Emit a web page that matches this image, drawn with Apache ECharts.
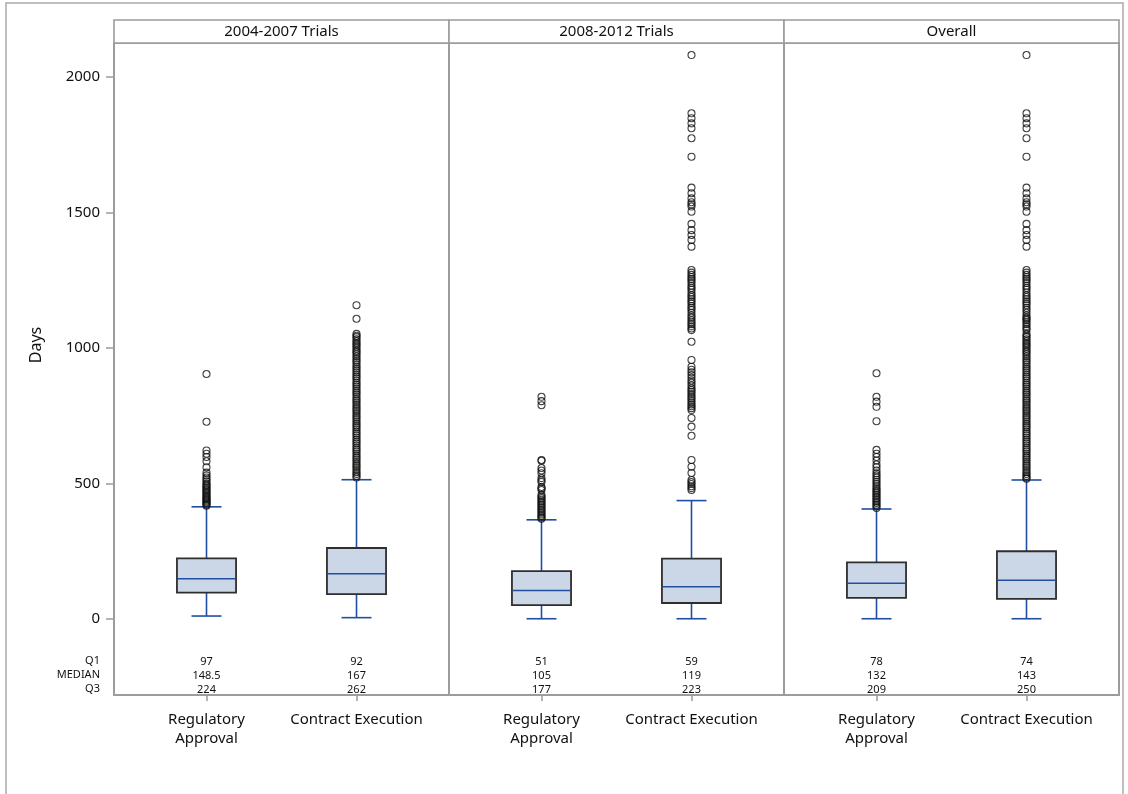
<!DOCTYPE html>
<html><head><meta charset="utf-8">
<script src="https://cdn.jsdelivr.net/npm/echarts@6/dist/echarts.min.js"></script>
<style>html,body{margin:0;padding:0;background:#fff}#c{width:1128px;height:794px}</style>
</head><body><div id="c"></div>
<script>
// ---------- data ----------
const panels = ['2004-2007 Trials', '2008-2012 Trials', 'Overall'];
const categories = ['Regulatory\nApproval', 'Contract Execution'];
const yTicks = [0, 500, 1000, 1500, 2000];
const statLabels = ['Q1', 'MEDIAN', 'Q3'];

// per panel: [Regulatory Approval, Contract Execution]
const whiskerLow  = [[11, 5], [1, 1], [1, 1]];
const q1          = [[97, 92], [51, 59], [78, 74]];
const median      = [[148.5, 167], [105, 119], [132, 143]];
const q3          = [[224, 262], [177, 223], [209, 250]];
const whiskerHigh = [[414, 514], [366, 437], [406, 513]];

const outP1Reg = [904, 728, 622, 610, 598, 582, 560, 540, 530, 522, 515, 508, 500, 495, 490, 485, 480, 475, 470, 465, 460, 455, 450, 446, 442, 438, 434, 430, 426, 422, 418];
const outP1Con = [1158, 1108, 1052, 1045, 1040, 1032, 1025, 1018, 1012, 1005, 998, 990, 985, 978, 970, 962, 955, 948, 940, 932, 925, 918, 910, 902, 895, 888, 880, 872, 865, 858, 850, 842, 835, 828, 820, 812, 805, 798, 790, 782, 775, 768, 760, 752, 745, 738, 730, 722, 715, 708, 700, 692, 685, 678, 670, 662, 655, 648, 640, 632, 625, 618, 610, 602, 595, 588, 580, 572, 565, 558, 550, 542, 535, 528, 522];
const outP2Reg = [820, 804, 789, 587, 584, 557, 548, 538, 520, 512, 506, 487, 482, 476, 458, 452, 446, 440, 434, 428, 422, 416, 410, 404, 398, 392, 386, 380, 375, 370];
const outP2Con = [2081, 1866, 1848, 1829, 1811, 1774, 1706, 1592, 1571, 1552, 1538, 1530, 1522, 1503, 1458, 1435, 1417, 1399, 1374, 1288, 1278, 1270, 1262, 1255, 1248, 1240, 1230, 1222, 1215, 1205, 1195, 1188, 1180, 1172, 1165, 1155, 1148, 1140, 1130, 1120, 1112, 1103, 1095, 1088, 1080, 1072, 1066, 1023, 956, 931, 920, 910, 900, 890, 880, 872, 862, 852, 845, 838, 830, 822, 815, 808, 800, 792, 785, 778, 771, 742, 710, 676, 587, 562, 539, 513, 505, 498, 490, 483, 476];
const outP3Reg = [907, 820, 802, 783, 730, 624, 610, 598, 585, 570, 560, 548, 538, 530, 522, 514, 506, 498, 490, 482, 476, 470, 464, 458, 452, 446, 440, 434, 428, 422, 416, 410];
const outP3Con = [2081, 1866, 1848, 1829, 1811, 1774, 1706, 1592, 1571, 1552, 1538, 1530, 1522, 1503, 1458, 1435, 1417, 1399, 1374, 1288, 1278, 1270, 1262, 1255, 1248, 1240, 1230, 1222, 1215, 1205, 1195, 1188, 1180, 1172, 1165, 1158, 1148, 1140, 1130, 1120, 1112, 1108, 1103, 1095, 1088, 1080, 1072, 1066, 1052, 1045, 1040, 1032, 1025, 1018, 1012, 1005, 998, 990, 985, 978, 970, 962, 955, 948, 940, 932, 925, 918, 910, 902, 895, 888, 880, 872, 865, 858, 850, 842, 835, 828, 820, 812, 805, 798, 790, 782, 775, 768, 760, 752, 745, 738, 730, 722, 715, 708, 700, 692, 685, 678, 670, 662, 655, 648, 640, 632, 625, 618, 610, 602, 595, 588, 580, 572, 565, 558, 550, 542, 535, 528, 522, 518];
const outliers = [[outP1Reg, outP1Con], [outP2Reg, outP2Con], [outP3Reg, outP3Con]];

// ---------- layout / style ----------
const FONT = 'Noto Sans';
const panelX = [114, 449, 784];
const panelW = 335;
const plotTop = 43, plotH = 652;
const headerTop = 20, headerH = 23;
const innerPad = 17.5;
const yMin = -280.4, yMax = 2125.5;
const frameColor = '#9c9c9c';
const boxFill = '#cbd6e6', boxStroke = '#2e2e2e', blue = '#1f4ea3';

function renderBox(params, api) {
  const x = api.value(0);
  const lo = api.coord([x, api.value(1)]);
  const b1 = api.coord([x, api.value(2)]);
  const md = api.coord([x, api.value(3)]);
  const b3 = api.coord([x, api.value(4)]);
  const hi = api.coord([x, api.value(5)]);
  const cx = lo[0];
  const band = api.size([1, 0])[0];
  const hw = band * 0.197, cw = band * 0.1;
  const ls = { stroke: blue, lineWidth: 1.6 };
  return {
    type: 'group',
    children: [
      { type: 'line', shape: { x1: cx, y1: lo[1], x2: cx, y2: b1[1] }, style: ls },
      { type: 'line', shape: { x1: cx, y1: b3[1], x2: cx, y2: hi[1] }, style: ls },
      { type: 'line', shape: { x1: cx - cw, y1: lo[1], x2: cx + cw, y2: lo[1] }, style: ls },
      { type: 'line', shape: { x1: cx - cw, y1: hi[1], x2: cx + cw, y2: hi[1] }, style: ls },
      { type: 'rect', shape: { x: cx - hw, y: b3[1], width: hw * 2, height: b1[1] - b3[1] },
        style: { fill: boxFill, stroke: boxStroke, lineWidth: 1.8 } },
      { type: 'line', shape: { x1: cx - hw + 1, y1: md[1], x2: cx + hw - 1, y2: md[1] }, style: ls }
    ]
  };
}

const grids = [], xAxes = [], yAxes = [], series = [], graphics = [];

graphics.push({ type: 'rect', shape: { x: 6, y: 3, width: 1117, height: 900 },
  style: { fill: 'none', stroke: '#aaaaaa', lineWidth: 1.5 }, z: 0 });

panels.forEach((title, p) => {
  grids.push({ left: panelX[p] + innerPad, top: plotTop, width: panelW - 2 * innerPad, height: plotH, containLabel: false });
  xAxes.push({
    type: 'category', gridIndex: p, data: categories, position: 'bottom',
    axisLine: { show: false, onZero: false },
    axisTick: { show: true, alignWithLabel: true, length: 6, lineStyle: { color: frameColor, width: 1.5 } },
    axisLabel: { interval: 0, hideOverlap: false, fontFamily: FONT, fontSize: 15, color: '#111', margin: 15, lineHeight: 19 },
    splitLine: { show: false }
  });
  xAxes.push({
    type: 'category', gridIndex: p, data: categories, position: 'bottom', offset: -44,
    axisLine: { show: false, onZero: false }, axisTick: { show: false }, splitLine: { show: false },
    axisLabel: {
      interval: 0, hideOverlap: false,
      fontFamily: FONT, fontSize: 11, color: '#111', margin: 4, lineHeight: 14,
      formatter: (v, i) => [q1[p][i], median[p][i], q3[p][i]].join('\n')
    }
  });
  const first = p === 0;
  yAxes.push({
    type: 'value', gridIndex: p, min: yMin, max: yMax, offset: innerPad,
    axisLine: { show: false },
    splitLine: { show: false },
    axisTick: { show: first, customValues: yTicks, length: 8, lineStyle: { color: frameColor, width: 1.5 } },
    axisLabel: { show: first, customValues: yTicks, formatter: v => String(v), fontFamily: FONT, fontSize: 15, color: '#111', margin: 14 }
  });
  series.push({
    type: 'custom', xAxisIndex: 2 * p, yAxisIndex: p, renderItem: renderBox,
    encode: { x: 0, y: [1, 2, 3, 4, 5] },
    data: categories.map((c, i) => [i, whiskerLow[p][i], q1[p][i], median[p][i], q3[p][i], whiskerHigh[p][i]]),
    z: 3
  });
  const pts = [];
  categories.forEach((c, i) => outliers[p][i].forEach(v => pts.push([i, v])));
  series.push({
    type: 'scatter', xAxisIndex: 2 * p, yAxisIndex: p, data: pts,
    symbol: 'circle', symbolSize: 7,
    itemStyle: { color: 'rgba(0,0,0,0)', borderColor: '#111', borderWidth: 1.1 },
    z: 4
  });
  graphics.push({ type: 'rect', shape: { x: panelX[p], y: plotTop, width: panelW, height: plotH },
    style: { fill: 'none', stroke: frameColor, lineWidth: 2 }, z: 5 });
  graphics.push({ type: 'rect', shape: { x: panelX[p], y: headerTop, width: panelW, height: headerH },
    style: { fill: '#fff', stroke: frameColor, lineWidth: 1.6 }, z: 5 });
  graphics.push({ type: 'text', x: panelX[p] + panelW / 2, y: headerTop + headerH / 2 + 0.5, z: 6,
    style: { text: title, fontFamily: FONT, fontSize: 15, fill: '#111', textAlign: 'center', textVerticalAlign: 'middle' } });
});

statLabels.forEach((s, k) => {
  graphics.push({ type: 'text', x: 100, y: 661 + 14 * k, z: 6,
    style: { text: s, fontFamily: FONT, fontSize: 11, fill: '#111', textAlign: 'right', textVerticalAlign: 'middle' } });
});
graphics.push({ type: 'text', x: 36, y: 345, rotation: Math.PI / 2, z: 6,
  style: { text: 'Days', fontFamily: FONT, fontSize: 16, fill: '#111', textAlign: 'center', textVerticalAlign: 'middle' } });

const chart = echarts.init(document.getElementById('c'), null, { renderer: 'canvas' });
chart.setOption({
  backgroundColor: '#fff',
  animation: false,
  grid: grids, xAxis: xAxes, yAxis: yAxes, series: series, graphic: graphics
});
</script></body></html>
